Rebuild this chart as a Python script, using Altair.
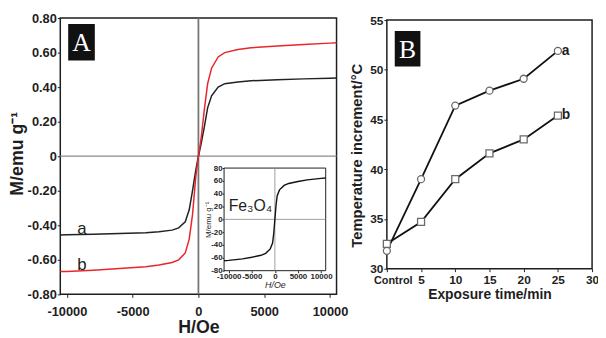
import altair as alt
import pandas as pd

# ---------------- Panel A : magnetisation curves ----------------
H_A = [-10500, -10000, -8000, -6000, -4000, -3000, -2000, -1500, -1000, -700, -450, -200, 0,
       200, 450, 700, 1000, 1500, 2000, 3000, 4000, 6000, 8000, 10000, 10500]
M_a = [-0.456, -0.455, -0.452, -0.448, -0.443, -0.437, -0.428, -0.415, -0.38, -0.31, -0.2, -0.08, 0.0,
       0.07, 0.17, 0.28, 0.35, 0.40, 0.42, 0.43, 0.437, 0.443, 0.448, 0.452, 0.453]
M_b = [-0.668, -0.667, -0.66, -0.65, -0.64, -0.63, -0.615, -0.60, -0.56, -0.48, -0.34, -0.12, 0.0,
       0.10, 0.27, 0.42, 0.51, 0.575, 0.60, 0.618, 0.628, 0.638, 0.647, 0.655, 0.657]
A_series = ["a", "b"]
A_label_H = [-8850, -8850]
A_label_M = [-0.42, -0.63]
A_x_ticks = [-10000, -5000, 0, 5000, 10000]
A_y_ticks = [-0.8, -0.6, -0.4, -0.2, 0, 0.2, 0.4, 0.6, 0.8]

# ---------------- Inset : Fe3O4 ----------------
H_in = [-11000, -10000, -7000, -5000, -3000, -2000, -1000, -500, -250, 0,
        250, 500, 1000, 2000, 3000, 5000, 7000, 10000, 11000]
M_in = [-64.5, -64, -61.5, -59, -56, -53, -46, -37, -22, 0,
        22, 37, 46, 53, 56, 59, 61.5, 64, 64.5]
in_label = ["Fe\u2083O\u2084"]
in_label_H = [-5300]
in_label_M = [20]
in_x_ticks = [-10000, -5000, 0, 5000, 10000]
in_y_ticks = [-80, -60, -40, -20, 0, 20, 40, 60, 80]

# ---------------- Panel B : temperature increment ----------------
t_B = [0, 5, 10, 15, 20, 25]
T_a = [31.8, 39.0, 46.4, 47.9, 49.1, 51.9]
T_b = [32.5, 34.7, 39.0, 41.6, 43.0, 45.4]
B_x_ticks = [0, 5, 10, 15, 20, 25, 30]
B_y_ticks = [30, 35, 40, 45, 50, 55]

SANS = "Liberation Sans, Arial, sans-serif"
SERIF = "Liberation Serif, DejaVu Serif, serif"
INK = "#1e1e1e"


def hy(fmt):
    return f"(datum.value < 0 ? '-' : '') + format(abs(datum.value), '{fmt}')"


one = pd.DataFrame({"k": [0]})

# ---------- A main ----------
xA = alt.Scale(domain=[-10500, 10500], range=[0, 280], nice=False, zero=False)
yA = alt.Scale(domain=[-0.8, 0.8], range=[280, 0], nice=False, zero=False)
xA_axis = alt.Axis(orient="bottom", values=A_x_ticks, tickCount=30, labelExpr=hy("d"),
                   labelFont=SANS, labelFontSize=13, labelFontWeight="bold", labelColor=INK,
                   tickSize=3, labelPadding=8, labelOverlap=False, labelFlush=False,
                   title="H/Oe", titleFont=SANS, titleFontSize=18, titleFontWeight="bold",
                   titleColor=INK, titlePadding=1)
yA_axis = alt.Axis(orient="left", values=A_y_ticks, tickCount=30,
                   labelExpr="datum.value == 0 ? '0' : " + hy(".2f"), labelFont=SANS,
                   labelFontSize=13, labelFontWeight="bold", labelColor=INK, tickSize=3,
                   labelPadding=1, labelOverlap=False, title="M/emu g\u207b\u00b9",
                   titleFont=SANS, titleFontSize=18, titleFontWeight="bold", titleColor=INK,
                   titleX=-34, titleY=137)

dfA = pd.DataFrame({"H": H_A + H_A, "M": M_a + M_b,
                    "series": ["a"] * len(H_A) + ["b"] * len(H_A)})
curvesA = alt.Chart(dfA).mark_line(strokeWidth=1.5).encode(
    x=alt.X("H:Q", scale=xA, axis=xA_axis),
    y=alt.Y("M:Q", scale=yA, axis=yA_axis),
    color=alt.Color("series:N", scale=alt.Scale(domain=A_series, range=["#222222", "#e8262b"]),
                    legend=None),
)
frameA = alt.Chart(one).mark_rect(fillOpacity=0, stroke=INK, strokeWidth=1.5).encode(
    x=alt.datum(-10500), x2=alt.datum(10500), y=alt.datum(-0.8), y2=alt.datum(0.8))
zeroHA = alt.Chart(one).mark_rule(color="#8a8a8a", strokeWidth=1.3).encode(
    x=alt.datum(-10500), x2=alt.datum(10500), y=alt.datum(0))
zeroVA = alt.Chart(one).mark_rule(color="#777777", strokeWidth=1.8).encode(
    x=alt.datum(0), y=alt.datum(-0.8), y2=alt.datum(0.8))
dfAl = pd.DataFrame({"H": A_label_H, "M": A_label_M, "s": A_series})
labelsA = alt.Chart(dfAl).mark_text(font=SANS, fontSize=17, color=INK).encode(
    x="H:Q", y="M:Q", text="s:N")
boxA = alt.Chart(one).mark_rect(color="#111111").encode(
    x=alt.value(8), x2=alt.value(35), y=alt.value(6), y2=alt.value(43))
letterA = alt.Chart(pd.DataFrame({"t": ["A"]})).mark_text(
    font=SERIF, fontSize=26, color="white", baseline="middle").encode(
    text="t:N", x=alt.value(21.5), y=alt.value(25.5))
layerA = alt.layer(frameA, zeroHA, zeroVA, curvesA, labelsA, boxA, letterA)

# ---------- inset ----------
xI = alt.Scale(domain=[-11000, 11000], range=[166, 269], nice=False, zero=False)
yI = alt.Scale(domain=[-80, 80], range=[256, 152], nice=False, zero=False)
xI_axis = alt.Axis(orient="bottom", offset=-24, values=in_x_ticks, tickCount=30,
                   labelExpr=hy("d"), labelFont=SANS, labelFontSize=8, labelFontWeight="bold",
                   labelColor=INK, tickSize=2, labelPadding=0, labelOverlap=False,
                   labelFlush=False, title="H/Oe",
                   titleFont=SANS, titleFontSize=9, titleFontStyle="italic",
                   titleFontWeight="normal", titleColor=INK, titlePadding=0)
yI_axis = alt.Axis(orient="left", offset=-166, values=in_y_ticks, tickCount=30,
                   labelExpr=hy("d"), labelFont=SANS, labelFontSize=8, labelFontWeight="bold",
                   labelColor=INK, tickSize=2, labelPadding=0, labelOverlap=False,
                   title="M/emu g\u207b\u00b9", titleFont=SANS, titleFontSize=8,
                   titleFontWeight="normal", titleColor=INK, titlePadding=-2)
frameI = alt.Chart(one).mark_rect(fill="white", stroke=INK, strokeWidth=1).encode(
    x=alt.datum(-11000), x2=alt.datum(11000), y=alt.datum(-80), y2=alt.datum(80))
zeroHI = alt.Chart(one).mark_rule(color="#888888", strokeWidth=0.8).encode(
    x=alt.datum(-11000), x2=alt.datum(11000), y=alt.datum(0))
zeroVI = alt.Chart(one).mark_rule(color="#888888", strokeWidth=0.8).encode(
    x=alt.datum(0), y=alt.datum(-80), y2=alt.datum(80))
dfI = pd.DataFrame({"H": H_in, "M": M_in})
curveI = alt.Chart(dfI).mark_line(color="#111111", strokeWidth=1.4).encode(
    x=alt.X("H:Q", scale=xI, axis=xI_axis), y=alt.Y("M:Q", scale=yI, axis=yI_axis))
textI = alt.Chart(pd.DataFrame({"H": in_label_H, "M": in_label_M, "t": in_label})).mark_text(
    font=SANS, fontSize=16, color=INK, baseline="middle").encode(x="H:Q", y="M:Q", text="t:N")
layerI = alt.layer(frameI, zeroHI, zeroVI, curveI, textI)

# ---------- B ----------
xB = alt.Scale(domain=[0, 30], range=[331, 539], nice=False, zero=False)
yB = alt.Scale(domain=[30, 55], range=[254, 2], nice=False, zero=False)
xB_axis = alt.Axis(orient="bottom", offset=-26, values=B_x_ticks, tickCount=30,
                   labelExpr="datum.value == 0 ? 'Control' : datum.label", labelFont=SANS,
                   labelFontSize={"condition": {"test": "datum.value == 0", "value": 11},
                                  "value": 12},
                   labelFontWeight="bold", labelColor=INK, tickSize=3,
                   labelPadding=3, labelOverlap=False, labelFlush=False,
                   labelOffset={"condition": {"test": "datum.value == 0", "value": 6}, "value": 0},
                   title="Exposure time/min", titleFont=SANS, titleFontSize=14,
                   titleFontWeight="bold", titleColor=INK, titlePadding=2)
yB_axis = alt.Axis(orient="left", offset=-331, values=B_y_ticks, tickCount=30, labelFont=SANS,
                   labelFontSize=12, labelFontWeight="bold", labelColor=INK, tickSize=3,
                   labelPadding=1, labelOverlap=False, labelFlush=False,
                   title="Temperature increment/\u00b0C",
                   titleFont=SANS, titleFontSize=15, titleFontWeight="bold", titleColor=INK,
                   titleX=-23, titleY=139)
dfB = pd.DataFrame({"t": t_B + t_B, "T": T_a + T_b,
                    "series": ["a"] * len(t_B) + ["b"] * len(t_B)})
frameB = alt.Chart(one).mark_rect(fillOpacity=0, stroke=INK, strokeWidth=1.5).encode(
    x=alt.datum(0), x2=alt.datum(30), y=alt.datum(30), y2=alt.datum(55))
linesB = alt.Chart(dfB).mark_line(color="#111111", strokeWidth=1.8).encode(
    x=alt.X("t:Q", scale=xB, axis=xB_axis), y=alt.Y("T:Q", scale=yB, axis=yB_axis),
    detail="series:N")
pointsB = alt.Chart(dfB).mark_point(fill="white", fillOpacity=1, stroke="#6a6a6a",
                                    strokeWidth=1.3, size=50).encode(
    x="t:Q", y="T:Q",
    shape=alt.Shape("series:N", scale=alt.Scale(domain=A_series, range=["circle", "square"]),
                    legend=None))
dfBl = pd.DataFrame({"t": [t_B[-1], t_B[-1]], "T": [T_a[-1], T_b[-1]], "s": A_series})
labelsB = alt.Chart(dfBl).mark_text(font=SANS, fontSize=14, fontWeight="bold", color=INK,
                                    align="left", dx=4, baseline="middle").encode(
    x="t:Q", y="T:Q", text="s:N")
boxB = alt.Chart(one).mark_rect(color="#111111").encode(
    x=alt.value(339), x2=alt.value(365), y=alt.value(13), y2=alt.value(49))
letterB = alt.Chart(pd.DataFrame({"t": ["B"]})).mark_text(
    font=SERIF, fontSize=26, color="white", baseline="middle").encode(
    text="t:N", x=alt.value(352), y=alt.value(32))
layerB = alt.layer(frameB, linesB, pointsB, labelsB, boxB, letterB)

chart = alt.layer(layerA, layerI, layerB).resolve_scale(
    x="independent", y="independent"
).properties(
    width=539, height=280,
    autosize=alt.AutoSizeParams(type="none"),
    padding={"left": 53, "top": 8, "right": 6, "bottom": 42},
).configure_view(stroke=None).configure_axis(
    grid=False, domain=False, tickColor=INK, tickWidth=1
)

chart.save("out.html", embed_options={"renderer": "svg", "actions": False})
